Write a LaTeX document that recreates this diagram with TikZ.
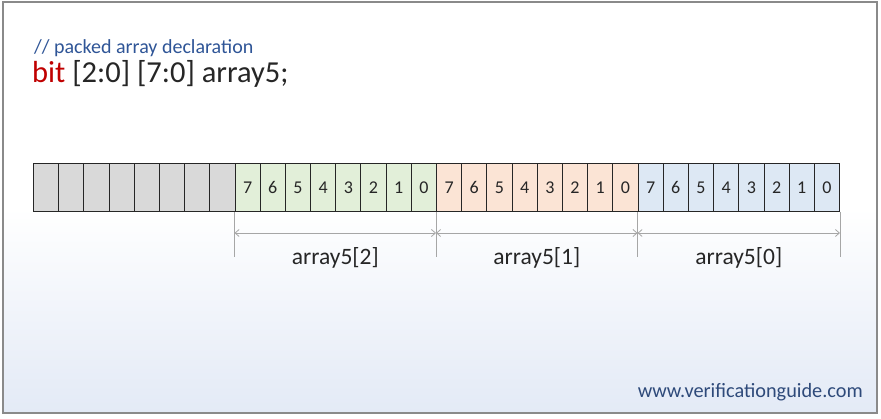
\documentclass[tikz,border=0pt]{standalone}
\usepackage{fontspec}
\setmainfont{Carlito}
\usetikzlibrary{arrows.meta,calc}
\definecolor{frame}{HTML}{8A8A8A}
\definecolor{bgbot}{HTML}{E3EAF6}
\definecolor{cgray}{HTML}{D9D9D9}
\definecolor{cgreen}{HTML}{E2EFD9}
\definecolor{corange}{HTML}{FBE4D5}
\definecolor{cblue}{HTML}{DDE8F4}
\definecolor{txt}{HTML}{262626}
\definecolor{cmt}{HTML}{2F5597}
\definecolor{kw}{HTML}{C00000}
\definecolor{web}{HTML}{2E4A7A}
\definecolor{dimc}{HTML}{A6A6A6}
\begin{document}
\begin{tikzpicture}[x=1pt,y=-1pt,
  cell/.style={draw=txt, line width=0.9pt, minimum width=25.19pt, minimum height=48pt,
    inner sep=0pt, anchor=north west, font=\fontsize{18}{18}\selectfont, text=txt},
  extline/.style={draw=dimc, line width=0.8pt},
  dimline/.style={draw=dimc, line width=0.8pt, {Straight Barb[length=4pt,width=7pt]}-{Straight Barb[length=4pt,width=7pt]}},
  lbl/.style={font=\fontsize{23.5}{23.5}\selectfont, text=txt, inner sep=0pt}]
\useasboundingbox (0,0) rectangle (881,418);
\shade[top color=white, bottom color=bgbot, middle color=white] (3,2) rectangle (877,413);
\draw[frame, line width=1.5pt] (3,2) rectangle (877,413);
\node[anchor=base west, inner sep=0pt, text=cmt, font=\fontsize{20}{20}\selectfont] (cm) at (34,53) {// packed array declaration};
\node[anchor=base west, inner sep=0pt, text=txt, font=\fontsize{30.5}{30.5}\selectfont] (decl) at (32,82) {\textcolor{kw}{bit} [2:0] [7:0] array5;};
\foreach \i in {0,...,7} {
  \node[cell, fill=cgray] (c\i) at (33+\i*25.19,163) {};
}
\foreach \i/\d in {8/7,9/6,10/5,11/4,12/3,13/2,14/1,15/0} {
  \node[cell, fill=cgreen] (c\i) at (33+\i*25.19,163) {\d};
}
\foreach \i/\d in {16/7,17/6,18/5,19/4,20/3,21/2,22/1,23/0} {
  \node[cell, fill=corange] (c\i) at (33+\i*25.19,163) {\d};
}
\foreach \i/\d in {24/7,25/6,26/5,27/4,28/3,29/2,30/1,31/0} {
  \node[cell, fill=cblue] (c\i) at (33+\i*25.19,163) {\d};
}
\coordinate (e0) at (c8.south west |- 0,257);
\coordinate (e1) at (c16.south west |- 0,257);
\coordinate (e2) at (c24.south west |- 0,257);
\coordinate (e3) at (c31.south east |- 0,257);
\coordinate (d0) at (c8.south west |- 0,233);
\coordinate (d1) at (c16.south west |- 0,233);
\coordinate (d2) at (c24.south west |- 0,233);
\coordinate (d3) at (c31.south east |- 0,233);
\draw[extline] (c8.south west) -- (e0);
\draw[extline] (c16.south west) -- (e1);
\draw[extline] (c24.south west) -- (e2);
\draw[extline] (c31.south east) -- (e3);
\draw[dimline] (d0) -- (d1);
\draw[dimline] (d1) -- (d2);
\draw[dimline] (d2) -- (d3);
\node[lbl] (l2) at ($(d0)!0.5!(d1)+(0,25)$) {array5[2]};
\node[lbl] (l1) at ($(d1)!0.5!(d2)+(0,25)$) {array5[1]};
\node[lbl] (l0) at ($(d2)!0.5!(d3)+(0,25)$) {array5[0]};
\node[anchor=base east, inner sep=0pt, text=web, font=\fontsize{20.3}{20.3}\selectfont] (w) at (863,397) {www.verificationguide.com};
\end{tikzpicture}
\end{document}
